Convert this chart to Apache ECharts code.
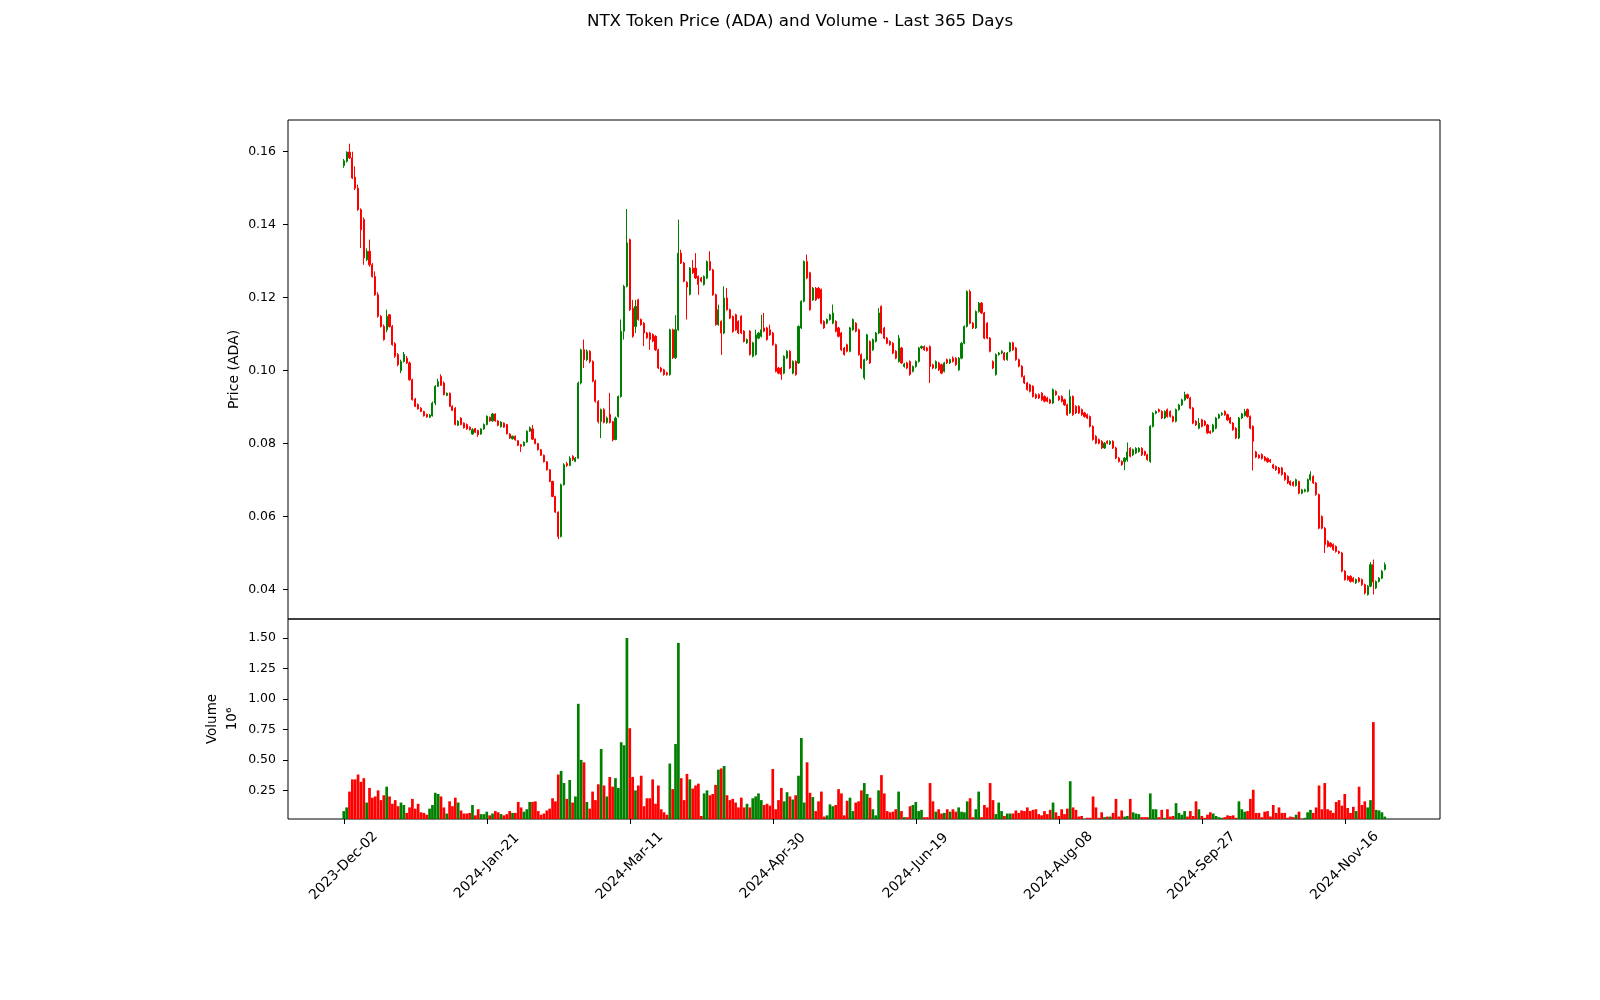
<!DOCTYPE html>
<html><head><meta charset="utf-8">
<script src="https://cdn.jsdelivr.net/npm/echarts@6/dist/echarts.min.js"></script>
<style>html,body{margin:0;padding:0;background:#fff}#c{width:1600px;height:1000px}</style>
</head><body><div id="c"></div>
<script>
const titleText = 'NTX Token Price (ADA) and Volume - Last 365 Days';
const tickIndex = [0,50,100,150,200,250,300,350];
const tickLabels = ['2023-Dec-02','2024-Jan-21','2024-Mar-11','2024-Apr-30','2024-Jun-19','2024-Aug-08','2024-Sep-27','2024-Nov-16'];
const priceTicks = [0.04,0.06,0.08,0.10,0.12,0.14,0.16];
const volumeTicks = [0.25,0.5,0.75,1.0,1.25,1.5];

const opens = [
.1562,.1574,.1599,.1583,.1530,.1500,.1441,.1414,.1304,.1327,
.1290,.1258,.1208,.1149,.1121,.1112,.1153,.1121,.1074,.1044,
.1000,.1025,.1034,.1021,.0975,.0922,.0907,.0897,.0888,.0880,
.0872,.0876,.0911,.0957,.0984,.0966,.0932,.0938,.0902,.0897,
.0850,.0870,.0856,.0852,.0845,.0826,.0841,.0836,.0826,.0840,
.0852,.0872,.0862,.0881,.0862,.0846,.0856,.0852,.0826,.0813,
.0820,.0808,.0797,.0794,.0804,.0834,.0840,.0812,.0800,.0783,
.0768,.0750,.0728,.0696,.0655,.0612,.0545,.0687,.0745,.0740,
.0765,.0751,.0760,.0966,.1057,.1030,.1053,.1025,.0971,.0916,
.0860,.0893,.0858,.0880,.0860,.0811,.0874,.0929,.1108,.1231,
.1359,.1171,.1121,.1194,.1140,.1130,.1103,.1103,.1099,.1094,
.1057,.1007,.1002,.0994,.0989,.1112,.1035,.1112,.1322,.1295,
.1242,.1209,.1281,.1281,.1258,.1254,.1236,.1254,.1299,.1276,
.1208,.1126,.1135,.1103,.1199,.1167,.1148,.1153,.1135,.1149,
.1108,.1076,.1108,.1039,.1044,.1089,.1094,.1117,.1117,.1112,
.1103,.1071,.1007,.1007,.0993,.1035,.1053,.0993,.1025,.1021,
.1117,.1190,.1299,.1268,.1194,.1226,.1226,.1222,.1135,.1130,
.1140,.1130,.1135,.1117,.1103,.1062,.1071,.1053,.1112,.1130,
.1112,.1044,.0980,.1030,.1080,.1057,.1080,.1103,.1176,.1117,
.1089,.1080,.1075,.1053,.1025,.1062,.1011,.1021,.1025,.0998,
.1011,.1025,.1062,.1066,.1062,.1066,.1016,.1007,.1021,.1016,
.0998,.1030,.1021,.1034,.1034,.1002,.1034,.1075,.1121,.1217,
.1130,.1117,.1162,.1185,.1158,.1130,.1089,.1025,.0989,.1044,
.1048,.1048,.1030,.1053,.1076,.1062,.1030,.1012,.0984,.0966,
.0961,.0957,.0934,.0934,.0938,.0929,.0925,.0920,.0911,.0943,
.0929,.0929,.0920,.0906,.0884,.0929,.0902,.0902,.0893,.0884,
.0879,.0874,.0847,.0820,.0811,.0806,.0788,.0806,.0799,.0806,
.0788,.0760,.0751,.0750,.0755,.0787,.0769,.0774,.0778,.0787,
.0778,.0769,.0751,.0847,.0883,.0893,.0888,.0870,.0893,.0888,
.0874,.0861,.0893,.0906,.0920,.0934,.0925,.0897,.0861,.0842,
.0865,.0861,.0851,.0833,.0833,.0842,.0870,.0879,.0888,.0879,
.0870,.0856,.0842,.0815,.0870,.0877,.0893,.0874,.0847,.0777,
.0768,.0770,.0763,.0759,.0755,.0742,.0737,.0733,.0733,.0719,
.0710,.0696,.0694,.0685,.0696,.0664,.0669,.0669,.0701,.0710,
.0692,.0660,.0600,.0568,.0532,.0527,.0523,.0518,.0504,.0500,
.0450,.0436,.0436,.0431,.0418,.0431,.0427,.0413,.0386,.0409,
.0468,.0404,.0422,.0431,.0455];

const closes = [
.1575,.1599,.1583,.1528,.1500,.1441,.1386,.1309,.1327,.1290,
.1258,.1208,.1149,.1121,.1085,.1149,.1121,.1071,.1039,.1016,
.1025,.1045,.1021,.0975,.0920,.0902,.0895,.0888,.0876,.0873,
.0878,.0911,.0957,.0970,.0960,.0934,.0938,.0902,.0891,.0852,
.0861,.0852,.0843,.0840,.0838,.0838,.0831,.0824,.0840,.0852,
.0875,.0862,.0881,.0862,.0850,.0859,.0845,.0827,.0815,.0820,
.0810,.0795,.0792,.0804,.0834,.0843,.0812,.0800,.0783,.0768,
.0750,.0728,.0696,.0655,.0612,.0545,.0687,.0742,.0740,.0760,
.0756,.0760,.0966,.1057,.1030,.1053,.1025,.0971,.0916,.0860,
.0893,.0858,.0870,.0858,.0810,.0870,.0929,.1108,.1231,.1350,
.1167,.1094,.1176,.1140,.1126,.1103,.1090,.1085,.1081,.1057,
.1007,.0998,.0989,.0989,.1112,.1035,.1112,.1322,.1295,.1245,
.1229,.1281,.1268,.1254,.1236,.1245,.1258,.1299,.1276,.1208,
.1126,.1167,.1103,.1199,.1167,.1144,.1107,.1112,.1103,.1103,
.1080,.1085,.1044,.1076,.1098,.1103,.1112,.1108,.1085,.1098,
.1071,.0998,.0993,.0989,.1039,.1053,.1007,.1025,.0989,.1121,
.1190,.1299,.1254,.1167,.1226,.1194,.1199,.1130,.1117,.1140,
.1153,.1158,.1108,.1094,.1057,.1044,.1053,.1117,.1140,.1108,
.1044,.1007,.1030,.1098,.1021,.1085,.1103,.1158,.1103,.1089,
.1075,.1071,.1048,.1034,.1089,.1021,.1018,.1007,.0989,.1011,
.1025,.1062,.1066,.1057,.1055,.1011,.1007,.1025,.1002,.0993,
.1021,.1021,.1030,.1025,.1016,.1034,.1075,.1121,.1217,.1130,
.1117,.1162,.1185,.1158,.1089,.1089,.1053,.1007,.1044,.1048,
.1053,.1030,.1048,.1076,.1057,.1030,.1012,.0984,.0966,.0948,
.0943,.0929,.0925,.0925,.0920,.0916,.0916,.0911,.0948,.0934,
.0920,.0916,.0906,.0879,.0929,.0879,.0884,.0884,.0879,.0874,
.0870,.0847,.0811,.0801,.0801,.0788,.0801,.0801,.0806,.0788,
.0760,.0751,.0742,.0760,.0777,.0765,.0783,.0787,.0787,.0769,
.0769,.0756,.0847,.0883,.0888,.0888,.0870,.0888,.0874,.0874,
.0861,.0893,.0906,.0920,.0934,.0925,.0897,.0856,.0851,.0856,
.0847,.0851,.0829,.0829,.0851,.0870,.0879,.0883,.0879,.0865,
.0856,.0838,.0815,.0870,.0881,.0888,.0874,.0842,.0806,.0763,
.0761,.0759,.0754,.0750,.0750,.0733,.0728,.0719,.0715,.0701,
.0692,.0687,.0685,.0701,.0664,.0673,.0673,.0701,.0715,.0692,
.0660,.0568,.0568,.0523,.0518,.0518,.0509,.0504,.0500,.0450,
.0427,.0427,.0422,.0422,.0427,.0422,.0413,.0390,.0409,.0468,
.0420,.0422,.0431,.0450,.0468];

const highs = [
.1580,.1601,.1622,.1600,.1560,.1510,.1445,.1420,.1335,.1359,
.1295,.1272,.1215,.1152,.1126,.1167,.1155,.1125,.1078,.1048,
.1030,.1051,.1040,.1025,.0978,.0925,.0910,.0900,.0890,.0882,
.0881,.0915,.0960,.0978,.0990,.0970,.0940,.0940,.0905,.0900,
.0864,.0872,.0858,.0855,.0847,.0842,.0843,.0838,.0842,.0855,
.0877,.0874,.0884,.0883,.0864,.0861,.0858,.0854,.0828,.0822,
.0822,.0810,.0799,.0806,.0836,.0847,.0851,.0814,.0802,.0785,
.0770,.0752,.0730,.0698,.0657,.0614,.0690,.0746,.0750,.0765,
.0768,.0763,.0970,.1060,.1085,.1058,.1056,.1028,.0975,.0919,
.0896,.0897,.0874,.0939,.0862,.0874,.0932,.1140,.1235,.1443,
.1362,.1194,.1194,.1197,.1143,.1133,.1106,.1106,.1102,.1097,
.1060,.1010,.1005,.0997,.1115,.1115,.1152,.1414,.1331,.1298,
.1245,.1284,.1303,.1322,.1261,.1257,.1261,.1302,.1327,.1279,
.1211,.1181,.1138,.1231,.1226,.1170,.1151,.1156,.1138,.1152,
.1111,.1088,.1111,.1079,.1112,.1106,.1153,.1158,.1120,.1126,
.1106,.1074,.1010,.1010,.1042,.1056,.1056,.1028,.1028,.1124,
.1193,.1302,.1318,.1271,.1229,.1229,.1229,.1225,.1138,.1143,
.1156,.1181,.1138,.1120,.1106,.1065,.1074,.1120,.1143,.1133,
.1115,.1047,.1033,.1101,.1083,.1088,.1106,.1171,.1179,.1120,
.1092,.1083,.1078,.1056,.1098,.1065,.1021,.1024,.1028,.1014,
.1028,.1065,.1069,.1069,.1065,.1069,.1019,.1028,.1024,.1019,
.1024,.1033,.1033,.1039,.1037,.1037,.1078,.1124,.1220,.1222,
.1133,.1165,.1188,.1188,.1161,.1133,.1092,.1028,.1047,.1051,
.1056,.1051,.1051,.1079,.1079,.1065,.1033,.1015,.0987,.0969,
.0964,.0960,.0937,.0937,.0941,.0932,.0928,.0923,.0951,.0946,
.0932,.0932,.0923,.0909,.0948,.0932,.0905,.0905,.0896,.0887,
.0882,.0877,.0850,.0823,.0814,.0809,.0804,.0809,.0809,.0809,
.0791,.0763,.0754,.0763,.0803,.0790,.0786,.0790,.0790,.0790,
.0781,.0772,.0851,.0886,.0891,.0896,.0891,.0891,.0896,.0891,
.0877,.0896,.0909,.0923,.0942,.0937,.0928,.0900,.0864,.0870,
.0868,.0864,.0854,.0836,.0854,.0873,.0882,.0886,.0891,.0882,
.0873,.0859,.0845,.0873,.0884,.0895,.0896,.0877,.0850,.0780,
.0771,.0773,.0766,.0762,.0758,.0745,.0740,.0736,.0736,.0722,
.0713,.0699,.0697,.0704,.0698,.0676,.0676,.0704,.0724,.0713,
.0695,.0663,.0603,.0571,.0535,.0530,.0526,.0521,.0507,.0503,
.0453,.0439,.0439,.0434,.0430,.0434,.0430,.0416,.0412,.0475,
.0482,.0425,.0434,.0453,.0474];

const lows = [
.1556,.1570,.1580,.1525,.1495,.1438,.1336,.1290,.1300,.1285,
.1255,.1205,.1145,.1118,.1082,.1105,.1118,.1068,.1035,.1012,
.0993,.1022,.1018,.0972,.0918,.0900,.0893,.0886,.0874,.0871,
.0870,.0874,.0905,.0955,.0958,.0932,.0930,.0900,.0889,.0850,
.0848,.0850,.0841,.0838,.0836,.0824,.0829,.0818,.0824,.0838,
.0850,.0860,.0860,.0860,.0847,.0844,.0843,.0825,.0813,.0811,
.0808,.0793,.0777,.0792,.0802,.0832,.0810,.0798,.0781,.0766,
.0748,.0726,.0694,.0653,.0610,.0538,.0543,.0685,.0736,.0738,
.0752,.0749,.0758,.0962,.1007,.1026,.1020,.0968,.0912,.0855,
.0815,.0855,.0854,.0855,.0806,.0809,.0871,.0926,.1085,.1228,
.1163,.1090,.1103,.1137,.1123,.1067,.1087,.1057,.1078,.1054,
.1004,.0995,.0986,.0986,.0986,.1032,.1032,.1109,.1292,.1242,
.1140,.1206,.1265,.1251,.1208,.1242,.1233,.1251,.1273,.1205,
.1123,.1123,.1043,.1100,.1164,.1141,.1104,.1109,.1100,.1100,
.1077,.1073,.1041,.1036,.1041,.1086,.1091,.1105,.1082,.1095,
.1068,.0995,.0990,.0975,.0990,.1032,.1004,.0990,.0986,.1018,
.1114,.1187,.1251,.1164,.1191,.1191,.1196,.1127,.1114,.1127,
.1137,.1127,.1105,.1091,.1054,.1041,.1050,.1050,.1109,.1105,
.1041,.1004,.0975,.1027,.1018,.1054,.1077,.1100,.1100,.1086,
.1072,.1068,.1045,.1031,.1022,.1018,.1008,.1004,.0986,.0995,
.1008,.1022,.1059,.1054,.1052,.0966,.1004,.1004,.0999,.0990,
.0995,.1018,.1018,.1022,.1013,.0999,.1031,.1072,.1118,.1127,
.1114,.1114,.1159,.1155,.1086,.1086,.1050,.1004,.0986,.1041,
.1045,.1027,.1027,.1050,.1054,.1027,.1009,.0981,.0963,.0945,
.0940,.0926,.0922,.0922,.0917,.0913,.0913,.0908,.0908,.0931,
.0917,.0913,.0903,.0876,.0881,.0876,.0881,.0881,.0876,.0871,
.0867,.0844,.0808,.0798,.0798,.0785,.0785,.0798,.0796,.0785,
.0757,.0748,.0739,.0727,.0750,.0762,.0766,.0771,.0775,.0766,
.0766,.0753,.0747,.0844,.0880,.0885,.0867,.0867,.0871,.0871,
.0858,.0858,.0890,.0903,.0917,.0922,.0894,.0853,.0848,.0839,
.0844,.0848,.0826,.0826,.0830,.0839,.0867,.0876,.0876,.0862,
.0853,.0835,.0812,.0812,.0867,.0874,.0871,.0839,.0726,.0760,
.0758,.0756,.0751,.0747,.0747,.0730,.0725,.0716,.0712,.0698,
.0689,.0684,.0682,.0682,.0661,.0661,.0666,.0666,.0698,.0689,
.0657,.0565,.0565,.0500,.0515,.0515,.0506,.0501,.0497,.0447,
.0424,.0424,.0419,.0419,.0415,.0419,.0410,.0386,.0383,.0406,
.0386,.0401,.0419,.0428,.0452];

// volume in millions
const volumes = [
.08,.11,.24,.34,.34,.38,.32,.35,.15,.27,
.19,.20,.25,.17,.21,.28,.20,.14,.17,.12,
.15,.13,.065,.11,.18,.10,.14,.07,.065,.05,
.10,.13,.23,.22,.20,.11,.06,.16,.12,.19,
.15,.085,.06,.06,.065,.13,.045,.095,.055,.055,
.075,.045,.06,.08,.07,.055,.045,.055,.08,.065,
.065,.155,.11,.075,.095,.155,.155,.16,.08,.05,
.06,.085,.10,.185,.16,.38,.41,.31,.18,.335,
.15,.20,.96,.50,.48,.155,.10,.24,.17,.30,
.59,.29,.20,.36,.28,.35,.27,.645,.62,1.50,
.76,.36,.25,.29,.37,.12,.185,.185,.34,.14,
.29,.095,.07,.05,.47,.26,.63,1.46,.35,.17,
.385,.34,.265,.29,.305,.04,.225,.25,.21,.22,
.295,.42,.43,.45,.21,.17,.18,.15,.11,.19,
.11,.14,.11,.185,.20,.225,.17,.13,.14,.125,
.425,.095,.17,.27,.16,.235,.20,.175,.21,.37,
.68,.15,.48,.23,.195,.08,.16,.24,.035,.045,
.135,.12,.13,.26,.225,.045,.165,.19,.08,.15,
.16,.25,.31,.22,.19,.095,.045,.25,.375,.225,
.08,.07,.075,.095,.24,.08,.03,.03,.12,.13,
.155,.08,.09,.03,.03,.31,.16,.075,.095,.06,
.065,.095,.075,.095,.075,.11,.075,.07,.16,.185,
.03,.095,.24,.03,.13,.11,.31,.17,.055,.15,
.08,.04,.06,.06,.06,.085,.065,.085,.08,.11,
.08,.09,.095,.055,.045,.08,.055,.09,.15,.07,
.04,.095,.055,.10,.325,.11,.09,.035,.04,.015,
.025,.025,.20,.11,.025,.07,.03,.035,.035,.065,
.18,.035,.085,.035,.04,.18,.07,.06,.055,.03,
.03,.03,.225,.095,.095,.03,.09,.025,.095,.035,
.04,.145,.065,.05,.08,.035,.08,.04,.16,.095,
.04,.025,.05,.07,.06,.04,.03,.025,.03,.045,
.04,.045,.025,.16,.095,.075,.08,.18,.255,.065,
.065,.03,.075,.08,.035,.13,.065,.11,.065,.065,
.025,.035,.03,.05,.075,.015,.025,.07,.09,.065,
.11,.29,.095,.31,.095,.085,.065,.155,.17,.125,
.22,.105,.065,.115,.08,.28,.13,.16,.11,.17,
.81,.09,.085,.07,.035];

const UP = '#008000', DOWN = '#ff0000';
const FONT = 'DejaVu Sans';
const X_MIN = -19.5, X_MAX = 383.3;

const candleData = opens.map((o, i) => [i, o, closes[i], lows[i], highs[i]]);
const volData = volumes.map((v, i) => ({
  value: [i, v],
  itemStyle: { color: closes[i] >= opens[i] ? UP : DOWN }
}));

const chart = echarts.init(document.getElementById('c'), null, { renderer: 'canvas' });
const lbl = { fontFamily: FONT, fontSize: 12.5, color: '#000' };
const nameStyle = { fontFamily: FONT, fontSize: 14, color: '#000' };

chart.setOption({
  animation: false,
  backgroundColor: '#fff',
  title: {
    text: titleText, left: 'center', top: 8,
    textStyle: { fontFamily: FONT, fontSize: 16.7, fontWeight: 'normal', color: '#000' }
  },
  grid: [
    { left: 288, right: 160, top: 120, height: 499, show: true, borderColor: '#000', borderWidth: 1, backgroundColor: 'transparent' },
    { left: 288, right: 160, top: 619, height: 200, show: true, borderColor: '#000', borderWidth: 1, backgroundColor: 'transparent' }
  ],
  xAxis: [
    { type: 'value', gridIndex: 0, min: X_MIN, max: X_MAX, show: false },
    { type: 'value', gridIndex: 1, min: X_MIN, max: X_MAX,
      axisLine: { show: false, onZero: false }, splitLine: { show: false },
      axisTick: { show: true, length: 5, lineStyle: { color: '#000' }, customValues: tickIndex },
      axisLabel: Object.assign({}, lbl, {
        fontSize: 13.9,
        customValues: tickIndex, rotate: 45, align: 'center', verticalAlign: 'middle', margin: 47,
        formatter: v => tickLabels[tickIndex.indexOf(Math.round(v))] || ''
      })
    }
  ],
  yAxis: [
    { type: 'value', gridIndex: 0, min: 0.0319, max: 0.1687,
      axisLine: { show: false, onZero: false }, splitLine: { show: false },
      axisTick: { show: true, length: 5, lineStyle: { color: '#000' }, customValues: priceTicks },
      axisLabel: Object.assign({}, lbl, { customValues: priceTicks, margin: 12, formatter: v => v.toFixed(2) }),
      name: 'Price (ADA)', nameLocation: 'middle', nameGap: 47, nameMoveOverlap: false,
      nameTextStyle: nameStyle
    },
    { type: 'value', gridIndex: 1, min: 0.015, max: 1.656,
      axisLine: { show: false, onZero: false }, splitLine: { show: false },
      axisTick: { show: true, length: 5, lineStyle: { color: '#000' }, customValues: volumeTicks },
      axisLabel: Object.assign({}, lbl, { customValues: volumeTicks, margin: 12, formatter: v => v.toFixed(2) }),
      name: 'Volume\n10⁶', nameLocation: 'middle', nameGap: 46, nameMoveOverlap: false,
      nameTextStyle: Object.assign({}, nameStyle, { fontSize: 13.5, lineHeight: 20 })
    }
  ],
  series: [
    { type: 'candlestick', xAxisIndex: 0, yAxisIndex: 0, data: candleData,
      barWidth: 1.6,
      itemStyle: { color: UP, color0: DOWN, borderColor: UP, borderColor0: DOWN, borderWidth: 1 }
    },
    { type: 'bar', xAxisIndex: 1, yAxisIndex: 1, data: volData, barWidth: 2.7 }
  ]
});
</script>
</body></html>
